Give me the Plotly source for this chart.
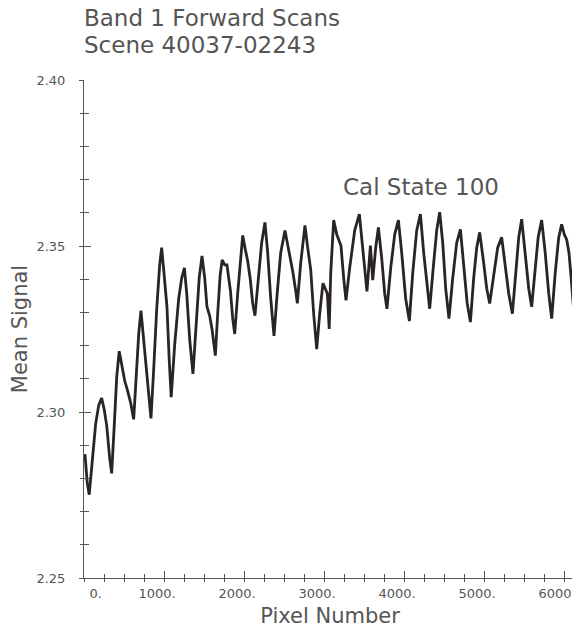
import plotly.graph_objects as go

# ---- data ----
pixel = [12, 40, 65, 96, 146, 184, 221, 252, 284, 321, 346, 378, 409, 440, 471, 509, 546,
         584, 621, 652, 684, 712, 740, 771, 809, 837, 871, 909, 946, 971, 1002, 1037, 1065,
         1090, 1134, 1184, 1221, 1255, 1284, 1321, 1362, 1402, 1440, 1475, 1509, 1537, 1571,
         1600, 1621, 1642, 1671, 1702, 1727, 1759, 1787, 1830, 1859, 1884, 1921, 1959, 1984,
         2017, 2046, 2077, 2109, 2137, 2177, 2221, 2262, 2296, 2334, 2375, 2415, 2459, 2512,
         2562, 2609, 2646, 2667, 2709, 2762, 2796, 2834, 2871, 2909, 2946, 2987, 3042, 3065,
         3084, 3121, 3159, 3212, 3246, 3275, 3321, 3384, 3442, 3484, 3537, 3580, 3609, 3646,
         3680, 3721, 3759, 3787, 3834, 3884, 3930, 3971, 4021, 4067, 4109, 4159, 4205, 4246,
         4284, 4321, 4371, 4409, 4446, 4484, 4521, 4562, 4609, 4659, 4705, 4746, 4790, 4830,
         4871, 4909, 4946, 4996, 5034, 5071, 5121, 5171, 5221, 5265, 5309, 5355, 5396, 5434,
         5471, 5515, 5559, 5596, 5634, 5677, 5721, 5765, 5809, 5846, 5890, 5934, 5971, 6003,
         6034, 6062, 6090, 6115, 6146]
signal = [2.2873, 2.2788, 2.2751, 2.2831, 2.2965, 2.3020, 2.3042, 2.3008, 2.2959, 2.2861,
          2.2815, 2.2959, 2.3106, 2.3183, 2.3143, 2.3094, 2.3063, 2.3027, 2.2978, 2.3106,
          2.3235, 2.3305, 2.3229, 2.3137, 2.3057, 2.2981, 2.3128, 2.3311, 2.3443, 2.3495,
          2.3412, 2.3317, 2.3158, 2.3045, 2.3204, 2.3342, 2.3403, 2.3434, 2.3357, 2.3219,
          2.3115, 2.3265, 2.3403, 2.3470, 2.3403, 2.3317, 2.3290, 2.3250, 2.3204, 2.3170,
          2.3296, 2.3412, 2.3458, 2.3443, 2.3443, 2.3366, 2.3281, 2.3235, 2.3357, 2.3480,
          2.3532, 2.3489, 2.3455, 2.3403, 2.3327, 2.3290, 2.3403, 2.3510, 2.3571, 2.3480,
          2.3342, 2.3229, 2.3357, 2.3480, 2.3547, 2.3489, 2.3424, 2.3366, 2.3327, 2.3449,
          2.3562, 2.3495, 2.3428, 2.3296, 2.3189, 2.3296, 2.3388, 2.3357, 2.3250, 2.3418,
          2.3578, 2.3535, 2.3501, 2.3403, 2.3336, 2.3434, 2.3547, 2.3596, 2.3495, 2.3363,
          2.3501, 2.3397, 2.3495, 2.3556, 2.3464, 2.3357, 2.3311, 2.3434, 2.3535, 2.3578,
          2.3480, 2.3342, 2.3274, 2.3418, 2.3547, 2.3596, 2.3480, 2.3388, 2.3311, 2.3449,
          2.3547, 2.3602, 2.3510, 2.3372, 2.3281, 2.3403, 2.3510, 2.3550, 2.3449, 2.3327,
          2.3271, 2.3403, 2.3495, 2.3541, 2.3449, 2.3372, 2.3327, 2.3418, 2.3495, 2.3526,
          2.3449, 2.3357, 2.3296, 2.3418, 2.3526, 2.3581, 2.3480, 2.3372, 2.3317, 2.3418,
          2.3526, 2.3578, 2.3480, 2.3357, 2.3281, 2.3418, 2.3526, 2.3565, 2.3535, 2.3519,
          2.3480, 2.3403, 2.3311, 2.3226]

x_major = [0, 1000, 2000, 3000, 4000, 5000, 6000]
x_labels = ["\u00a0" * 9 + "0.", "1000.", "2000.", "3000.", "4000.", "5000.", "6000."]
x_minor = list(range(0, 6001, 250))
y_major = [2.25, 2.30, 2.35, 2.40]
y_labels = ["2.25", "2.30", "2.35", "2.40"]
y_minor = [round(2.25 + 0.01 * i, 2) for i in range(16)]

title_lines = ["Band 1 Forward Scans", "Scene 40037-02243"]
note = "Cal State 100"

FONT = "DejaVu Sans"
TXT = "#555555"
AX = "#555555"

xr = [0, 6150]
yr = [2.25, 2.40]

fig = go.Figure()
fig.add_trace(go.Scatter(x=pixel, y=signal, mode="lines",
                         line=dict(color="#2a2327", width=2.8),
                         hoverinfo="skip", showlegend=False))
# invisible helper trace so the overlay axes (inner half of the crossing ticks) are drawn
fig.add_trace(go.Scatter(x=xr, y=yr, xaxis="x2", yaxis="y2", mode="markers",
                         marker=dict(opacity=0, size=1),
                         showlegend=False, hoverinfo="skip"))

fig.update_layout(
    width=572, height=620,
    margin=dict(l=76, r=4, t=72, b=50),
    paper_bgcolor="white", plot_bgcolor="white",
    font=dict(family=FONT, color=TXT),
    showlegend=False,
    xaxis=dict(range=xr, showgrid=False, zeroline=False,
               showline=True, linecolor=AX, linewidth=1,
               tickmode="array", tickvals=x_major, ticktext=x_labels,
               ticks="outside", ticklen=3, tickwidth=1, tickcolor=AX,
               minor=dict(tickmode="array", tickvals=x_minor, ticks="outside",
                          ticklen=3, tickwidth=1, tickcolor=AX, showgrid=False),
               tickfont=dict(size=13, color=TXT, family=FONT),
               ticklabelshift=-7, ticklabelstandoff=0, ticklabeloverflow="allow",
               title=dict(text="Pixel Number", font=dict(size=21, color=TXT, family=FONT),
                          standoff=10)),
    yaxis=dict(range=yr, showgrid=False, zeroline=False,
               showline=True, linecolor=AX, linewidth=1,
               tickmode="array", tickvals=y_major, ticktext=y_labels,
               ticks="outside", ticklen=4, tickwidth=1, tickcolor=AX,
               minor=dict(tickmode="array", tickvals=y_minor, ticks="outside",
                          ticklen=3, tickwidth=1, tickcolor=AX, showgrid=False),
               tickfont=dict(size=13, color=TXT, family=FONT),
               ticklabelstandoff=11, ticklabeloverflow="allow",
               title=dict(text="Mean Signal", font=dict(size=21, color=TXT, family=FONT),
                          standoff=8)),
    xaxis2=dict(range=xr, overlaying="x", anchor="y2", side="bottom",
                showgrid=False, zeroline=False, showline=False, showticklabels=False,
                tickmode="array", tickvals=x_major,
                ticks="inside", ticklen=7, tickwidth=1, tickcolor=AX,
                minor=dict(tickmode="array", tickvals=x_minor, ticks="inside",
                           ticklen=4, tickwidth=1, tickcolor=AX, showgrid=False)),
    yaxis2=dict(range=yr, overlaying="y", anchor="x2", side="left",
                showgrid=False, zeroline=False, showline=False, showticklabels=False,
                tickmode="array", tickvals=y_major,
                ticks="inside", ticklen=7, tickwidth=1, tickcolor=AX,
                minor=dict(tickmode="array", tickvals=y_minor, ticks="inside",
                           ticklen=5, tickwidth=1, tickcolor=AX, showgrid=False)),
)

fig.add_annotation(text=title_lines[0], xref="paper", yref="paper", x=-0.004, y=1.1245,
                   xanchor="left", yanchor="middle", showarrow=False,
                   font=dict(size=23, color=TXT, family=FONT))
fig.add_annotation(text=title_lines[1], xref="paper", yref="paper", x=-0.004, y=1.070,
                   xanchor="left", yanchor="middle", showarrow=False,
                   font=dict(size=23, color=TXT, family=FONT))
fig.add_annotation(text=note, xref="x", yref="y", x=3217, y=2.3678,
                   xanchor="left", yanchor="middle", showarrow=False,
                   font=dict(size=23, color=TXT, family=FONT))

fig.write_html("out.html")
